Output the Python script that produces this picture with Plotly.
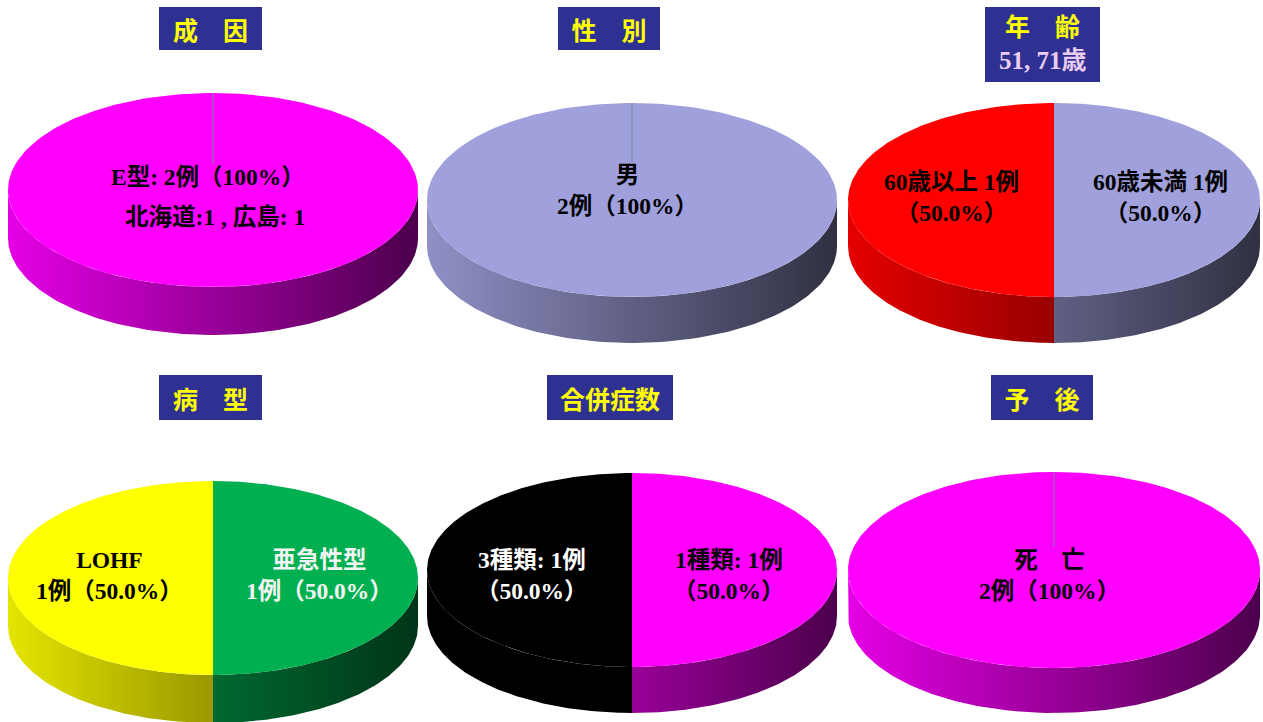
import numpy as np
import plotly.graph_objects as go

# ---- data (cases per category, slices run clockwise from 12 o'clock) ----
cause_labels = ["E型"]
cause_counts = [2]
cause_colors = ["#FF00FF"]
cause_detail = "北海道:1 , 広島: 1"

sex_labels = ["男"]
sex_counts = [2]
sex_colors = ["#A0A0DC"]

age_list = "51, 71歳"
age_labels = ["60歳未満", "60歳以上"]
age_counts = [1, 1]
age_colors = ["#A0A0DC", "#FF0000"]

type_labels = ["亜急性型", "LOHF"]
type_counts = [1, 1]
type_colors = ["#00B050", "#FFFF00"]
type_text = ["#F4F4F4", "#000000"]

comorb_labels = ["1種類", "3種類"]
comorb_counts = [1, 1]
comorb_colors = ["#FF00FF", "#000000"]
comorb_text = ["#000000", "#FFFFFF"]

outcome_labels = ["死　亡"]
outcome_counts = [2]
outcome_colors = ["#FF00FF"]

titles = ["成　因", "性　別", "年　齢", "病　型", "合併症数", "予　後"]

SERIF = "Liberation Serif, 'Noto Sans CJK JP', serif"
SANS = "'Noto Sans CJK JP', sans-serif"
TITLE_BG = "#2E3192"


def pct_text(n, total):
    p = 100.0 * n / total
    return "100%" if abs(p - 100) < 1e-9 else f"{p:.1f}%"


def shade(hex_color, f):
    h = hex_color.lstrip("#")
    r, g, b = (int(h[i:i + 2], 16) for i in (0, 2, 4))
    return f"rgb({int(r * f)},{int(g * f)},{int(b * f)})"


def arc(cx, cy, rx, ry, a, b, n=120):
    t = np.radians(np.linspace(a, b, n))
    return cx + rx * np.sin(t), cy - ry * np.cos(t)


panels = [
    dict(counts=cause_counts, colors=cause_colors, cx=213, cy=190, rx=205, ry=97, d=48,
         title=titles[0], tx=210.5, ty=28.5, tw=103, th=43),
    dict(counts=sex_counts, colors=sex_colors, cx=632, cy=200, rx=205, ry=97, d=46,
         title=titles[1], tx=609, ty=28.5, tw=102, th=43),
    dict(counts=age_counts, colors=age_colors, cx=1054, cy=200, rx=206, ry=97, d=46,
         title=titles[2], tx=1042.5, ty=44.5, tw=115, th=75),
    dict(counts=type_counts, colors=type_colors, cx=213, cy=578, rx=205, ry=97, d=48,
         title=titles[3], tx=210.5, ty=397.5, tw=103, th=45),
    dict(counts=comorb_counts, colors=comorb_colors, cx=632, cy=570, rx=205, ry=97, d=46,
         title=titles[4], tx=610, ty=397.5, tw=126, th=45),
    dict(counts=outcome_counts, colors=outcome_colors, cx=1054, cy=570, rx=206, ry=98, d=45,
         title=titles[5], tx=1042, ty=397.5, tw=102, th=45),
]

fig = go.Figure()
annotations = []

for p in panels:
    cx, cy, rx, ry, d = p["cx"], p["cy"], p["rx"], p["ry"], p["d"]
    total = sum(p["counts"])
    start = 0.0
    spans = []
    for n in p["counts"]:
        sweep = 360.0 * n / total
        spans.append((start, start + sweep))
        start += sweep

    # side wall (front half of the disc), shaded left-to-right
    for (a, b), col in zip(spans, p["colors"]):
        lo, hi = max(a, 90.0), min(b, 270.0)
        if lo >= hi:
            continue
        xt, yt = arc(cx, cy, rx, ry, lo, hi)
        xb, yb = arc(cx, cy + d, rx, ry, hi, lo)
        fig.add_trace(go.Scatter(
            x=np.concatenate([xt, xb, xt[:1]]), y=np.concatenate([yt, yb, yt[:1]]),
            mode="lines", line=dict(width=0), fill="toself",
            fillgradient=dict(type="horizontal", start=cx - rx, stop=cx + rx,
                              colorscale=[[0, shade(col, 0.9)], [1, shade(col, 0.3)]]),
            hoverinfo="skip", showlegend=False))

    # top face slices
    for (a, b), col in zip(spans, p["colors"]):
        xs, ys = arc(cx, cy, rx, ry, a, b, 240)
        if b - a < 359.999:
            xs = np.concatenate([[cx], xs, [cx]])
            ys = np.concatenate([[cy], ys, [cy]])
        fig.add_trace(go.Scatter(
            x=xs, y=ys, mode="lines", line=dict(width=0), fill="toself",
            fillcolor=col, hoverinfo="skip", showlegend=False))

    # single-slice discs keep the slice border at 12 o'clock
    if len(p["counts"]) == 1:
        x0, y0 = arc(cx, cy, rx, ry, 0, 0, 1)
        fig.add_trace(go.Scatter(
            x=[x0[0], cx], y=[y0[0], cy], mode="lines",
            line=dict(color="#6E8C9C", width=1), hoverinfo="skip", showlegend=False))

    # title box
    is_age = p["title"] == titles[2]
    annotations.append(dict(
        x=p["tx"], y=p["ty"], xref="x", yref="y", text=p["title"], showarrow=False,
        width=p["tw"], height=p["th"], bgcolor=TITLE_BG, borderwidth=0, borderpad=0,
        font=dict(family=SANS, size=25, color="#FFFF00", weight="bold"),
        align="center", valign="top" if is_age else "middle"))
    if is_age:
        annotations.append(dict(
            x=p["tx"], y=p["ty"] + 16, xref="x", yref="y", text=age_list, showarrow=False,
            font=dict(family=SERIF, size=25, color="#EBCDF3", weight="bold")))


def label(x, y, text, color="#000000", bg=None):
    a = dict(x=x, y=y, xref="x", yref="y", text=text, showarrow=False,
             font=dict(family=SERIF, size=23.5, color=color, weight="bold"),
             align="center", borderpad=0, borderwidth=0)
    if bg:
        a["bgcolor"] = bg
    annotations.append(a)


# 成因
p = panels[0]
label(p["cx"] - 5, p["cy"] - 13,
      f"{cause_labels[0]}: {cause_counts[0]}例（{pct_text(cause_counts[0], sum(cause_counts))}）",
      bg=cause_colors[0])
label(p["cx"] + 2, p["cy"] + 27, cause_detail, bg=cause_colors[0])

# 性別
p = panels[1]
label(p["cx"] - 5, p["cy"] - 10,
      f"{sex_labels[0]}<br>{sex_counts[0]}例（{pct_text(sex_counts[0], sum(sex_counts))}）",
      bg=sex_colors[0])

# 年齢
p = panels[2]
tot = sum(age_counts)
label(p["cx"] + 106, p["cy"] - 3, f"{age_labels[0]} {age_counts[0]}例<br>（{pct_text(age_counts[0], tot)}）")
label(p["cx"] - 103, p["cy"] - 3, f"{age_labels[1]} {age_counts[1]}例<br>（{pct_text(age_counts[1], tot)}）")

# 病型
p = panels[3]
tot = sum(type_counts)
label(p["cx"] + 106, p["cy"] - 3, f"{type_labels[0]}<br>{type_counts[0]}例（{pct_text(type_counts[0], tot)}）",
      color=type_text[0])
label(p["cx"] - 104, p["cy"] - 3, f"{type_labels[1]}<br>{type_counts[1]}例（{pct_text(type_counts[1], tot)}）",
      color=type_text[1])

# 合併症数
p = panels[4]
tot = sum(comorb_counts)
label(p["cx"] + 97, p["cy"] + 5, f"{comorb_labels[0]}: {comorb_counts[0]}例<br>（{pct_text(comorb_counts[0], tot)}）",
      color=comorb_text[0])
label(p["cx"] - 100, p["cy"] + 5, f"{comorb_labels[1]}: {comorb_counts[1]}例<br>（{pct_text(comorb_counts[1], tot)}）",
      color=comorb_text[1])

# 予後
p = panels[5]
label(p["cx"] - 5, p["cy"] + 5,
      f"{outcome_labels[0]}<br>{outcome_counts[0]}例（{pct_text(outcome_counts[0], sum(outcome_counts))}）",
      bg=outcome_colors[0])

fig.update_layout(
    width=1263, height=722, margin=dict(l=0, r=0, t=0, b=0),
    paper_bgcolor="white", plot_bgcolor="white",
    xaxis=dict(range=[0, 1263], visible=False, fixedrange=True),
    yaxis=dict(range=[722, 0], visible=False, fixedrange=True),
    annotations=annotations, showlegend=False,
)

fig.write_html("out.html")
